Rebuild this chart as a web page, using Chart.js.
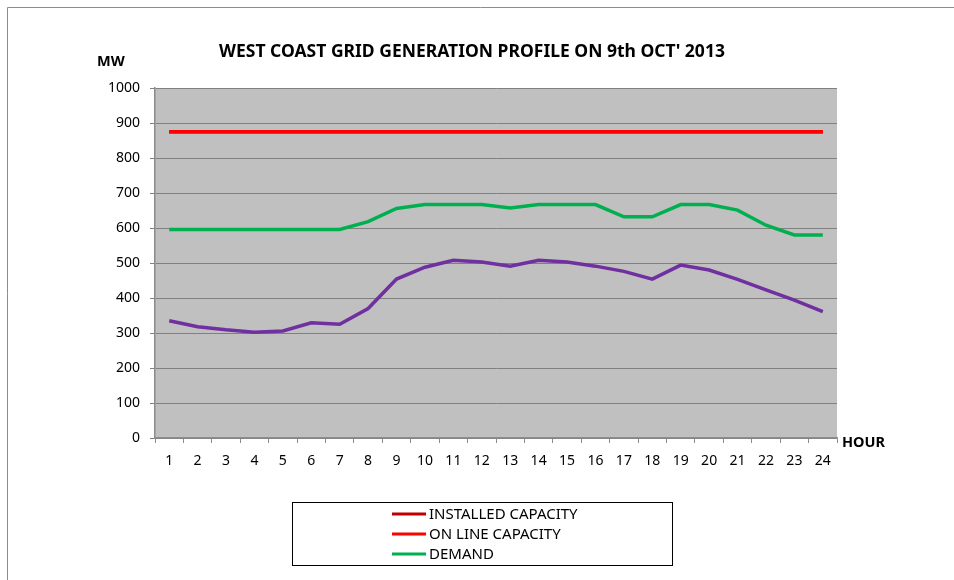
<!DOCTYPE html>
<html>
<head>
<meta charset="utf-8">
<script src="https://cdn.jsdelivr.net/npm/chart.js@4"></script>
<style>
  html, body { margin: 0; padding: 0; background: #fff; }
  #wrap { width: 954px; height: 580px; }
</style>
</head>
<body>
<div id="wrap"><canvas id="gridChart" width="954" height="580"></canvas></div>
<script>
// Data
const hours = ['1','2','3','4','5','6','7','8','9','10','11','12','13','14','15','16','17','18','19','20','21','22','23','24'];
const installedCapacity = [875,875,875,875,875,875,875,875,875,875,875,875,875,875,875,875,875,875,875,875,875,875,875,875];
const onLineCapacity = [875,875,875,875,875,875,875,875,875,875,875,875,875,875,875,875,875,875,875,875,875,875,875,875];
const demand = [596,596,596,596,596,596,596,618,656,667,667,667,657,667,667,667,632,632,667,667,651,608,580,580];
const generation = [335,318,309,302,306,329,325,370,454,488,508,503,491,508,503,491,476,454,494,480,453,423,394,361];
const yTicks = [0,100,200,300,400,500,600,700,800,900,1000];

const FONT = '"Noto Sans", sans-serif';

// Background, frame, titles and boxed legend
const decor = {
  id: 'decor',
  beforeDraw(chart) {
    const { ctx, chartArea: a } = chart;
    ctx.save();
    ctx.fillStyle = '#c0c0c0';
    ctx.fillRect(a.left, a.top, a.right - a.left, a.bottom - a.top);
    ctx.restore();
  },
  afterDraw(chart) {
    const ctx = chart.ctx;
    ctx.save();
    // outer frame
    ctx.strokeStyle = '#8c8c8c';
    ctx.lineWidth = 1;
    ctx.beginPath();
    ctx.moveTo(7.5, 580); ctx.lineTo(7.5, 7.5); ctx.lineTo(954, 7.5);
    ctx.stroke();

    ctx.fillStyle = '#000';
    ctx.textBaseline = 'middle';
    ctx.font = 'bold 17.5px ' + FONT;
    ctx.textAlign = 'center';
    ctx.fillText("WEST COAST GRID GENERATION PROFILE ON 9th OCT' 2013", 472, 52);
    ctx.font = 'bold 14.5px ' + FONT;
    ctx.textAlign = 'left';
    ctx.fillText('MW', 97, 62);
    ctx.fillText('HOUR', 842, 443);

    // legend box
    ctx.strokeStyle = '#000';
    ctx.lineWidth = 1;
    ctx.strokeRect(292.5, 502.5, 380, 63);
    ctx.font = '15px ' + FONT;
    const items = chart.data.datasets.filter(d => d.inLegend);
    const rows = [514, 534, 554];
    items.forEach((d, i) => {
      ctx.strokeStyle = d.borderColor;
      ctx.lineWidth = 3;
      ctx.beginPath();
      ctx.moveTo(392, rows[i]); ctx.lineTo(426, rows[i]);
      ctx.stroke();
      ctx.fillText(d.label, 429, rows[i] + 1);
    });
    ctx.restore();
  }
};

new Chart(document.getElementById('gridChart'), {
  type: 'line',
  data: {
    labels: hours,
    datasets: [
      { label: 'INSTALLED CAPACITY', data: installedCapacity, borderColor: '#c00000', inLegend: true, order: 4 },
      { label: 'ON LINE CAPACITY', data: onLineCapacity, borderColor: '#ff0000', inLegend: true, order: 1 },
      { label: 'DEMAND', data: demand, borderColor: '#00b050', inLegend: true, order: 2 },
      { label: 'GENERATION', data: generation, borderColor: '#7030a0', inLegend: false, order: 3 }
    ].map(d => Object.assign(d, { borderWidth: 3.5, pointRadius: 0, fill: false, tension: 0 }))
  },
  options: {
    responsive: false,
    animation: false,
    layout: { padding: { left: 0, right: 117, top: 88, bottom: 100 } },
    plugins: { legend: { display: false }, title: { display: false }, tooltip: { enabled: false } },
    scales: {
      x: {
        offset: true,
        grid: { offset: true, drawOnChartArea: false, drawTicks: true, tickLength: 5, color: '#8c8c8c' },
        border: { display: true, color: '#8c8c8c', width: 1.5 },
        ticks: { color: '#000', font: { family: FONT, size: 14 }, padding: 10, maxRotation: 0, autoSkip: false },
        afterFit(s) { s.height = 42; }
      },
      y: {
        min: 0, max: 1000,
        afterBuildTicks(s) { s.ticks = yTicks.map(v => ({ value: v })); },
        grid: { color: '#808080', lineWidth: 1, drawTicks: true, tickLength: 5 },
        border: { display: true, color: '#8c8c8c', width: 1.5 },
        ticks: { color: '#000', font: { family: FONT, size: 14 }, padding: 10, callback: v => String(v) },
        afterFit(s) { s.width = 155; }
      }
    }
  },
  plugins: [decor]
});
</script>
</body>
</html>
